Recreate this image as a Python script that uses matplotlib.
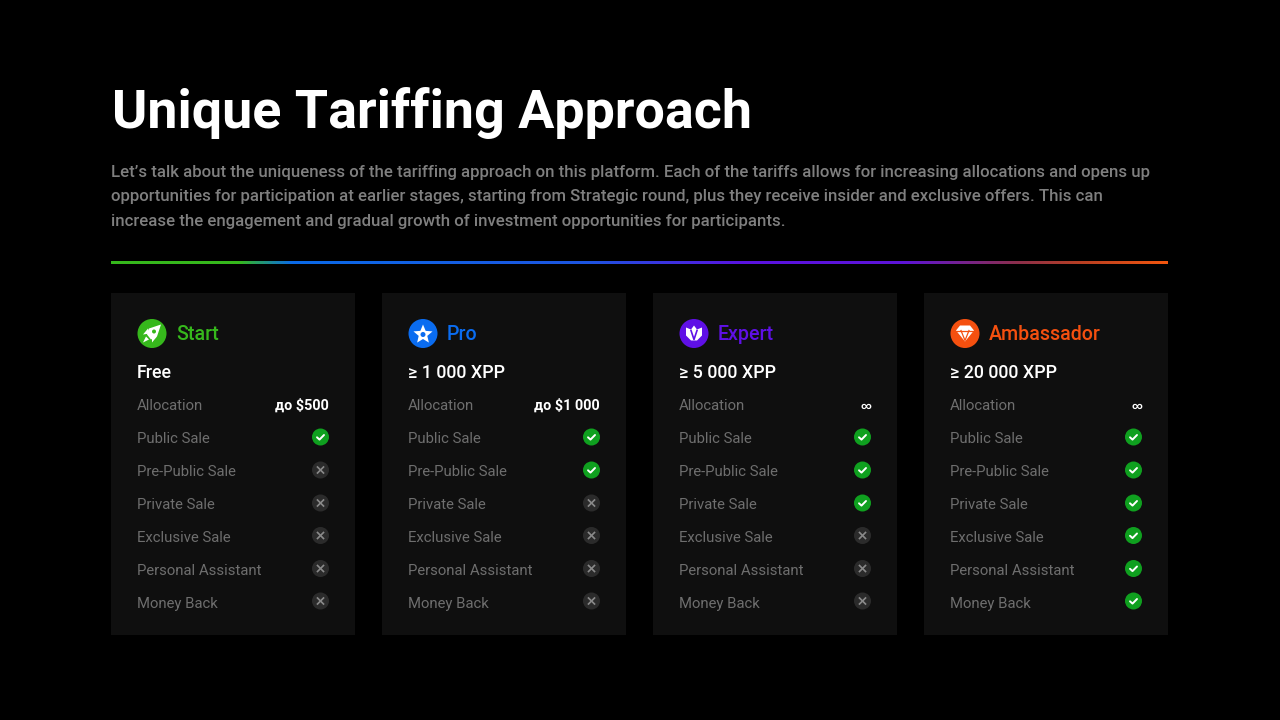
import matplotlib
matplotlib.use('Agg')
import matplotlib.pyplot as plt
import numpy as np
from matplotlib.colors import LinearSegmentedColormap
from matplotlib.patches import Circle, Polygon, Rectangle

plt.rcParams['font.family'] = ['Roboto', 'DejaVu Sans']

title = 'Unique Tariffing Approach'
intro = [
    "Let\u2019s talk about the uniqueness of the tariffing approach on this platform. Each of the tariffs allows for increasing allocations and opens up",
    "opportunities for participation at earlier stages, starting from Strategic round, plus they receive insider and exclusive offers. This can",
    "increase the engagement and gradual growth of investment opportunities for participants.",
]

tariffs = ['Start', 'Pro', 'Expert', 'Ambassador']
prices = ['Free', '\u2265 1 000 XPP', '\u2265 5 000 XPP', '\u2265 20 000 XPP']
allocations = ['\u0434\u043e $500', '\u0434\u043e $1 000', '\u221e', '\u221e']
features = ['Public Sale', 'Pre-Public Sale', 'Private Sale', 'Exclusive Sale', 'Personal Assistant', 'Money Back']
included = [
    [1, 0, 0, 0, 0, 0],
    [1, 1, 0, 0, 0, 0],
    [1, 1, 1, 0, 0, 0],
    [1, 1, 1, 1, 1, 1],
]
colors = ['#36b81c', '#0a6cf0', '#5f10e6', '#f5500f']
line_stops = [0, 0.12, 0.17, 0.45, 0.6, 0.75, 0.86, 0.92, 1]
line_colors = ['#36b81c', '#36b81c', '#0a6ae8', '#1d55e0', '#5a12e0', '#5d14d8', '#8c2f4a', '#b83f22', '#f2560f']

card_left = [111, 382, 653, 924]
card_w = 244
card_top, card_bottom = 293, 635
row_y = [437, 470, 503, 535.5, 568.5, 601]
label_y = [439, 472, 505, 537.5, 571, 604]

fig = plt.figure(figsize=(12.8, 7.2), dpi=100, facecolor='black')
ax = fig.add_axes([0, 0, 1, 1])
ax.set_xlim(0, 1280)
ax.set_ylim(720, 0)
ax.axis('off')

ax.text(112, 113, title, color='white', fontsize=38.8, fontweight='bold', va='center', ha='left')
for i, line in enumerate(intro):
    ax.text(111, 172 + i * 24.7, line, color='#7f7f7f', fontsize=12.05, fontweight='medium', va='center', ha='left')

cmap = LinearSegmentedColormap.from_list('rule', list(zip(line_stops, line_colors)))
ax.imshow(np.linspace(0, 1, 512).reshape(1, -1), cmap=cmap, extent=(111, 1168, 264, 261), aspect='auto', zorder=2)
ax.set_xlim(0, 1280)
ax.set_ylim(720, 0)


def draw_icon(n, cx, cy):
    ax.add_patch(Circle((cx, cy), 14.5, fc=colors[n], lw=0, zorder=3))
    if n == 0:
        # rocket
        ax.add_patch(Polygon([(cx + 9, cy - 9), (cx + 5, cy + 3), (cx - 1, cy + 6), (cx - 5, cy + 1), (cx - 3, cy - 5)], fc='white', lw=0, zorder=4))
        ax.add_patch(Polygon([(cx - 9, cy + 1), (cx - 4, cy - 5), (cx - 2, cy + 0)], fc='white', lw=0, zorder=4))
        ax.add_patch(Polygon([(cx, cy + 9), (cx + 5, cy + 3), (cx, cy + 3)], fc='white', lw=0, zorder=4))
        ax.add_patch(Polygon([(cx - 9, cy + 9), (cx - 6, cy + 3), (cx - 3, cy + 6)], fc='white', lw=0, zorder=4))
        ax.add_patch(Circle((cx + 2, cy - 2), 2, fc=colors[n], lw=0, zorder=5))
    elif n == 1:
        # star
        ang = np.deg2rad(np.arange(10) * 36 - 90)
        rad = np.array([10, 4.5] * 5)
        ax.add_patch(Polygon(np.c_[cx + rad * np.cos(ang), cy + 1 + rad * np.sin(ang)], fc='white', lw=0, zorder=4))
        ax.add_patch(Circle((cx, cy + 1), 2.5, fc=colors[n], lw=0, zorder=5))
    elif n == 2:
        # lotus
        ax.add_patch(Polygon([(cx - 8, cy - 6), (cx - 3, cy - 4), (cx, cy - 8), (cx + 3, cy - 4), (cx + 8, cy - 6),
                              (cx + 8, cy + 2), (cx + 3, cy + 7), (cx - 3, cy + 7), (cx - 8, cy + 2)], fc='white', lw=0, zorder=4))
        ax.plot([cx - 3, cx, cx + 3], [cy - 3, cy + 6, cy - 3], color=colors[n], lw=1.2, zorder=5)
    else:
        # diamond
        ax.add_patch(Polygon([(cx - 9, cy - 3), (cx - 5, cy - 8), (cx + 5, cy - 8), (cx + 9, cy - 3), (cx, cy + 8)], fc='white', lw=0, zorder=4))
        ax.plot([cx - 9, cx + 9], [cy - 3, cy - 3], color=colors[n], lw=0.9, zorder=5)
        ax.plot([cx - 4, cx, cx + 4], [cy - 3, cy + 7, cy - 3], color=colors[n], lw=0.9, zorder=5)


for n, name in enumerate(tariffs):
    left = card_left[n]
    right = left + card_w - 26
    text_x = left + 26
    ax.add_patch(Rectangle((left, card_top), card_w, card_bottom - card_top, fc='#0f0f0f', lw=0, zorder=1))
    draw_icon(n, left + 41, 333.5)
    ax.text(left + 65, 335, name, color=colors[n], fontsize=14.1, fontweight='medium', va='center', ha='left', zorder=3)
    ax.text(text_x, 373.5, prices[n], color='white', fontsize=12.9, fontweight='medium', va='center', ha='left', zorder=3)
    ax.text(text_x, 406, 'Allocation', color='#6e6e6e', fontsize=10.7, va='center', ha='left', zorder=3)
    is_inf = allocations[n] == '\u221e'
    ax.text(right, 405.5, allocations[n], color='white', fontsize=7.5 if is_inf else 10.4, fontweight='bold', va='center', ha='right', zorder=3)
    for r, feature in enumerate(features):
        y = row_y[r]
        ax.text(text_x, label_y[r], feature, color='#6e6e6e', fontsize=10.7, va='center', ha='left', zorder=3)
        cx = right - 8.5
        if included[n][r]:
            ax.add_patch(Circle((cx, y), 8.5, fc='#0fa01f', lw=0, zorder=3))
            ax.plot([cx - 3.5, cx - 1, cx + 3.5], [y + 0.3, y + 2.6, y - 2], color='white', lw=1.4, zorder=4, solid_capstyle='round')
        else:
            ax.add_patch(Circle((cx, y), 8.5, fc='#2b2b2b', lw=0, zorder=3))
            ax.plot([cx - 3, cx + 3], [y - 3, y + 3], color='#8a8a8a', lw=1.2, zorder=4)
            ax.plot([cx - 3, cx + 3], [y + 3, y - 3], color='#8a8a8a', lw=1.2, zorder=4)

fig.savefig('out.png', dpi=100, facecolor='black')
